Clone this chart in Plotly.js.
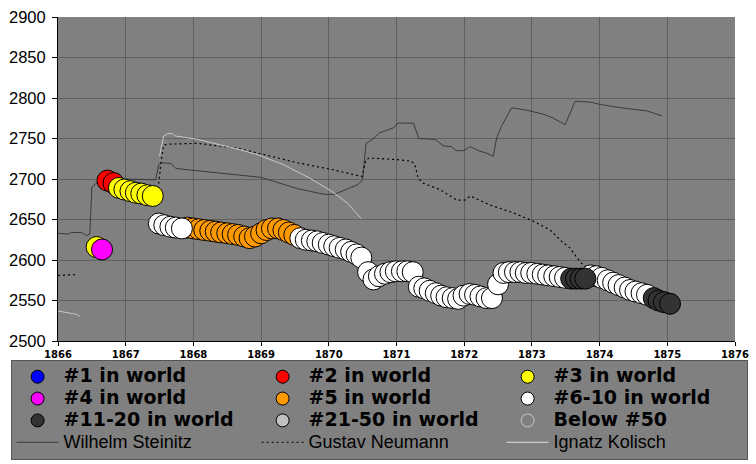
<!DOCTYPE html>
<html>
<head>
<meta charset="utf-8">
<script src="https://cdn.plot.ly/plotly-3.0.1.min.js"></script>
<style>html,body{margin:0;padding:0;background:#fff;}#chart{width:756px;height:464px;}</style>
</head>
<body>
<div id="chart"></div>
<script>
// ---- Rank category labels (legend) ----
var rankLabels = ["#1 in world", "#2 in world", "#3 in world", "#4 in world", "#5 in world",
                  "#6-10 in world", "#11-20 in world", "#21-50 in world", "Below #50"];
var rankColors = ["#0000ff", "#ff0000", "#ffff00", "#ff00ff", "#ff9900",
                  "#ffffff", "#333333", "#c0c0c0", "#808080"];
var rankOutline = ["#000000", "#000000", "#000000", "#000000", "#000000",
                   "#000000", "#000000", "#000000", "#c8c8c8"];

// ---- Monthly rating points, grouped by world rank ----
var rank1X = [];
var rank1Y = [];
var rank2X = [1866.73, 1866.82];
var rank2Y = [2698, 2695];
var rank3X = [1866.57, 1866.90, 1866.98, 1867.07, 1867.15, 1867.23, 1867.32, 1867.40];
var rank3Y = [2616, 2689, 2687, 2685, 2683, 2682, 2680, 2679];
var rank4X = [1866.65];
var rank4Y = [2613];
var rank5X = [1867.91, 1868.00, 1868.08, 1868.16, 1868.25, 1868.33, 1868.41, 1868.50, 1868.58, 1868.66,
              1868.75, 1868.83, 1868.91, 1869.00, 1869.08, 1869.16, 1869.25, 1869.33, 1869.41, 1869.49];
var rank5Y = [2640, 2639, 2638, 2637, 2636, 2635, 2634, 2633, 2632, 2631,
              2629, 2627, 2629, 2633, 2637, 2639, 2639, 2637, 2634, 2631];
var rank6X = [1867.49, 1867.57, 1867.66, 1867.74, 1867.83,
              1869.58, 1869.66, 1869.75, 1869.83, 1869.91, 1870.00, 1870.08, 1870.16, 1870.25, 1870.33, 1870.41, 1870.48,
              1870.58, 1870.66, 1870.74, 1870.83, 1870.91, 1870.99, 1871.08, 1871.16, 1871.24,
              1871.33, 1871.41, 1871.49, 1871.58, 1871.66, 1871.74, 1871.83, 1871.91, 1871.99, 1872.08, 1872.16, 1872.24, 1872.33, 1872.41, 1872.50, 1872.58,
              1872.66, 1872.75, 1872.83, 1872.91, 1872.99, 1873.08, 1873.16, 1873.24, 1873.33, 1873.41, 1873.49,
              1873.87, 1873.95, 1874.03, 1874.12, 1874.20, 1874.28, 1874.37, 1874.45, 1874.53, 1874.62, 1874.70];
var rank6Y = [2645, 2643, 2641, 2640, 2639,
              2627, 2625, 2624, 2623, 2621, 2619, 2617, 2615, 2613, 2610, 2607, 2603,
              2585, 2576, 2580, 2583, 2585, 2586, 2586, 2586, 2585,
              2567, 2565, 2562, 2559, 2556, 2554, 2553, 2552, 2556, 2558, 2557, 2555, 2553, 2553, 2570, 2584,
              2585, 2585, 2585, 2584, 2584, 2583, 2582, 2581, 2580, 2579, 2578,
              2581, 2580, 2578, 2575, 2572, 2569, 2566, 2563, 2561, 2559, 2557];
var rank11X = [1873.58, 1873.65, 1873.72, 1873.79, 1874.80, 1874.87, 1874.95, 1875.04];
var rank11Y = [2577, 2577, 2577, 2577, 2553, 2550, 2548, 2546];
var rank21X = [];
var rank21Y = [];
var rankBelowX = [];
var rankBelowY = [];

// ---- Player rating lines ----
var steinitzX = [1866.00, 1866.15, 1866.20, 1866.35, 1866.42, 1866.47, 1866.50, 1866.60, 1867.00, 1867.44, 1867.49, 1867.54,
                 1867.67, 1867.74, 1869.00, 1869.54, 1869.94, 1870.08, 1870.43, 1870.50, 1870.55, 1870.65, 1870.75,
                 1870.95, 1871.02, 1871.15, 1871.25, 1871.33, 1871.57, 1871.69, 1871.81, 1871.88, 1871.99, 1872.09,
                 1872.21, 1872.33, 1872.43, 1872.48, 1872.55, 1872.70, 1872.92, 1873.17, 1873.32, 1873.49, 1873.64,
                 1873.86, 1874.01, 1874.31, 1874.70, 1874.92];
var steinitzY = [2633, 2632, 2634, 2634, 2630, 2632, 2690, 2697, 2700, 2699, 2718, 2720,
                 2719, 2713, 2702, 2688, 2681, 2681, 2693, 2699, 2744, 2749, 2757,
                 2763, 2769, 2769, 2769, 2750, 2749, 2741, 2740, 2735, 2735, 2740,
                 2735, 2732, 2728, 2751, 2765, 2788, 2785, 2780, 2775, 2767, 2796,
                 2795, 2792, 2788, 2784, 2778];
var neumannX = [1866.00, 1866.22, 1866.27, null, 1867.48, 1867.52, 1867.56, 1867.62, 1868.06, 1868.65, 1869.05,
                1869.54, 1870.03, 1870.49, 1870.55, 1870.60, 1870.99, 1871.22, 1871.27, 1871.32, 1871.39,
                1871.64, 1871.89, 1872.01, 1872.09, 1872.38, 1872.73, 1873.02, 1873.27, 1873.44, 1873.56,
                1873.71, 1873.81, 1873.86];
var neumannY = [2581, 2582, 2582, null, 2688, 2720, 2742, 2743, 2744, 2738, 2730,
                2720, 2712, 2703, 2724, 2726, 2724, 2722, 2718, 2701, 2695,
                2687, 2674, 2674, 2679, 2668, 2658, 2648, 2637, 2623, 2615,
                2598, 2590, 2582];
var kolischX = [1866.00, 1866.12, 1866.27, 1866.33, null, 1867.50, 1867.56, 1867.62, 1867.69, 1867.74,
                1868.06, 1868.65, 1868.95, 1869.32, 1869.72, 1870.04, 1870.28, 1870.48];
var kolischY = [2537, 2535, 2533, 2530, null, 2728, 2753, 2756, 2756, 2753,
                2749, 2737, 2730, 2718, 2701, 2685, 2670, 2651];

var rankX = [rank1X, rank2X, rank3X, rank4X, rank5X, rank6X, rank11X, rank21X, rankBelowX];
var rankY = [rank1Y, rank2Y, rank3Y, rank4Y, rank5Y, rank6Y, rank11Y, rank21Y, rankBelowY];

var traces = [];
// lines first (behind circles)
traces.push({x: steinitzX, y: steinitzY, mode: 'lines', type: 'scatter', showlegend: false,
  line: {color: '#3a3a3a', width: 1}, hoverinfo: 'skip'});
traces.push({x: neumannX, y: neumannY, mode: 'lines', type: 'scatter', showlegend: false, connectgaps: false,
  line: {color: '#000000', width: 1.2, dash: '2px,3px'}, hoverinfo: 'skip'});
traces.push({x: kolischX, y: kolischY, mode: 'lines', type: 'scatter', showlegend: false, connectgaps: false,
  line: {color: '#c8c8c8', width: 1}, hoverinfo: 'skip'});

// rating circles by rank
for (var i = 0; i < rankLabels.length; i++) {
  traces.push({x: rankX[i], y: rankY[i], mode: 'markers', type: 'scatter', showlegend: false,
    marker: {size: 21, color: rankColors[i], line: {color: rankOutline[i], width: 1}}});
}
// legend entries
for (var j = 0; j < rankLabels.length; j++) {
  traces.push({x: [null], y: [null], mode: 'markers', type: 'scatter', legendrank: j + 1,
    name: '<span style="font-size:19px;font-weight:bold">' + rankLabels[j] + '</span>',
    marker: {size: 13, color: rankColors[j], line: {color: rankOutline[j], width: 1}}});
}
var lineNames = ["Wilhelm Steinitz", "Gustav Neumann", "Ignatz Kolisch"];
var lineStyles = [{color: '#3a3a3a', width: 1}, {color: '#000000', width: 1, dash: '2px,3px'}, {color: '#e0e0e0', width: 1}];
for (var k = 0; k < 3; k++) {
  traces.push({x: [null], y: [null], mode: 'lines', type: 'scatter', legendrank: 20 + k,
    name: '<span style="font-family:Arial;font-size:18px">' + lineNames[k] + '</span>',
    line: lineStyles[k]});
}

var layout = {
  width: 756, height: 464,
  margin: {l: 58, r: 21, t: 17, b: 123, pad: 0, autoexpand: false},
  paper_bgcolor: '#ffffff',
  plot_bgcolor: '#808080',
  showlegend: true,
  xaxis: {range: [1866, 1876], dtick: 1, tick0: 1866, showgrid: true, gridcolor: '#606060', gridwidth: 1,
    zeroline: false, showline: true, linecolor: '#000000', linewidth: 1, ticks: 'outside', ticklen: 4,
    tickcolor: '#000000', tickfont: {family: 'DejaVu Sans', size: 10, weight: 'bold', color: '#000'}},
  yaxis: {range: [2500, 2900], dtick: 50, tick0: 2500, showgrid: true, gridcolor: '#606060', gridwidth: 1,
    zeroline: false, showline: true, linecolor: '#000000', linewidth: 1, ticks: 'outside', ticklen: 5,
    ticklabelstandoff: 3,
    tickcolor: '#000000', tickfont: {family: 'Liberation Sans', size: 16.5, color: '#000'}},
  legend: {orientation: 'h', x: -0.07, xanchor: 'left', y: -0.058, yanchor: 'top',
    bgcolor: '#808080', bordercolor: '#555555', borderwidth: 1,
    entrywidth: 188, itemwidth: 42, traceorder: 'normal',
    font: {family: 'DejaVu Sans', size: 14.5, color: '#000000'}}
};

Plotly.newPlot('chart', traces, layout, {staticPlot: true});
</script>
</body>
</html>
